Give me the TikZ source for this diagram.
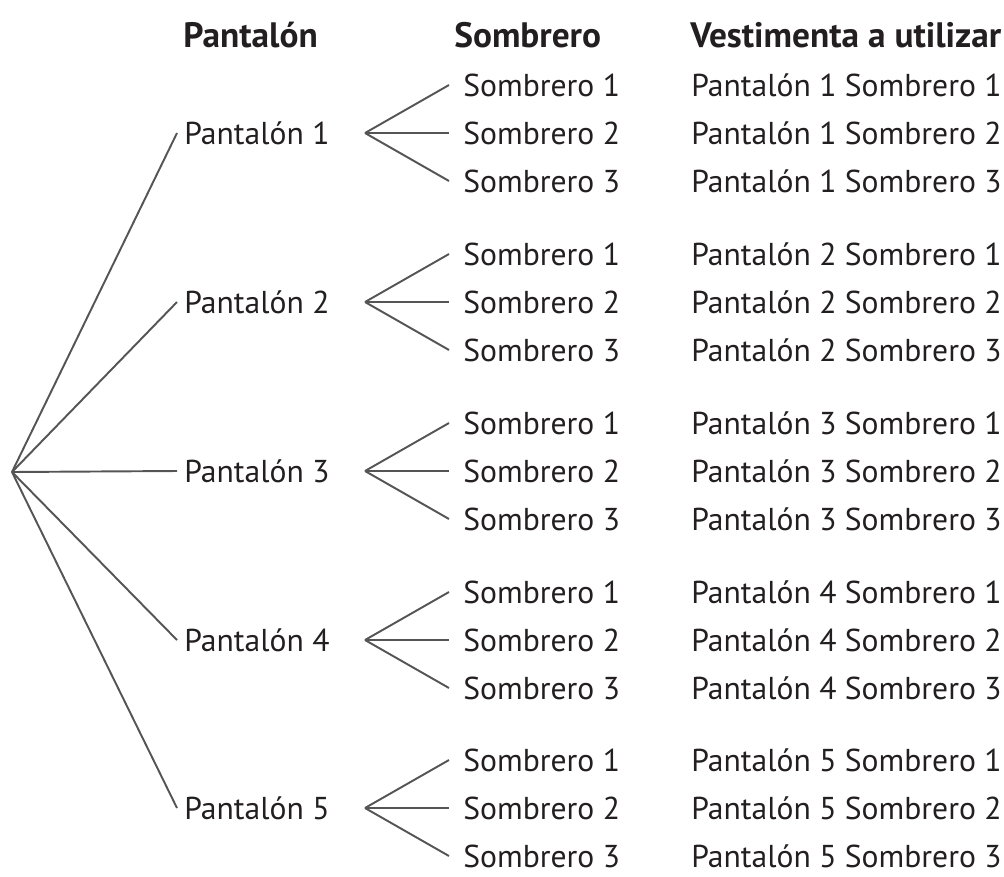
\documentclass[tikz,border=0pt]{standalone}
\usepackage{fontspec}
\setmainfont{PT Sans}
\definecolor{tinta}{HTML}{231F20}
\definecolor{linea}{HTML}{555555}
\begin{document}
\begin{tikzpicture}[x=0.02cm, y=-0.02cm,
  every node/.style={font=\fontsize{18}{21}\selectfont, text=tinta, anchor=west, inner sep=0pt},
  titulo/.style={font=\fontsize{20.1}{23}\selectfont\bfseries},
  pant/.style={inner xsep=4pt},
  somb/.style={inner xsep=8pt},
  rama/.style={draw=linea, line width=1.1pt}]
  \useasboundingbox (0,0) rectangle (1004,876);
  \coordinate (raiz) at (12,472);
  \node[titulo] (tpant) at (183,35) {Pantalón};
  \node[titulo] (tsomb) at (454,35) {Sombrero};
  \node[titulo] (tvest) at (690,35) {Vestimenta a utilizar};
  \foreach \i/\y in {1/133,2/302,3/471,4/640,5/808} {
    \node[pant] (p\i) at (177,\y) {Pantalón \i};
    \draw[rama] (raiz) -- (p\i.west);
    \coordinate (f\i) at (365,\y);
    \foreach \j/\d in {1/-48,2/0,3/48} {
      \node[somb] (s\i\j) at (449,\y+\d) {Sombrero \j};
      \node (c\i\j) at (691,\y+\d) {Pantalón \i{} Sombrero \j};
      \draw[rama] (f\i) -- (s\i\j.west);
    }
  }
\end{tikzpicture}
\end{document}
